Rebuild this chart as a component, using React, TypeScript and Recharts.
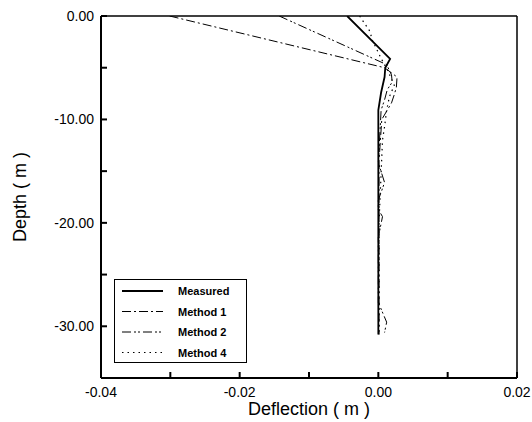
import React from 'react';
import {
    LineChart, Line, XAxis, YAxis, ReferenceLine,
} from 'recharts';

// depth (m) vs deflection (m) per series
const measuredDepth = [0, -4.15, -5.0, -5.9, -7.4, -9.1, -15, -20, -25, -30.8];
const measuredDefl  = [-0.0045, 0.0017, 0.001, 0.0009, 0.0004, 0.0, 0.0, 0.0, 0.0, 0.0];

const method1Depth = [0, -5.0, -5.9, -6.9, -7.6, -8.4, -10, -14, -20, -25, -30.8];
const method1Defl  = [-0.0301, 0.0009, 0.0027, 0.0026, 0.0023, 0.0019, 0.0005, 0.0001, 0.0001, 0.0001, 0.0001];

const method2Depth = [0, -4.7, -5.7, -6.4, -7.1, -8.1, -9.1, -14.2, -16.1, -17.8, -18.7, -19.4, -21.4, -27.7, -29.6, -30.6];
const method2Defl  = [-0.0143, 0.0012, 0.0019, 0.002, 0.0013, 0.0009, 0.0004, 0.0, 0.0009, 0.0, 0.0, 0.0006, 0.0, 0.0, 0.0012, 0.0009];

const method4Depth = [0, -1.5, -2.3, -4.1, -5.2, -6.7, -7.8, -9.1, -10.7, -12, -20, -30.8];
const method4Defl  = [-0.0027, -0.0012, -0.0009, 0.0004, 0.0013, 0.0023, 0.0016, 0.0012, 0.0009, 0.0006, 0.0001, 0.0001];

const xTicks = [-0.04, -0.03, -0.02, -0.01, 0, 0.01, 0.02];
const yTicks = [0, -5, -10, -15, -20, -25, -30, -35];

const toPoints = (depth: number[], defl: number[]) =>
    depth.map((z, i) => ({ d: defl[i], z }));

const SERIES = [
    { name: 'Measured', data: toPoints(measuredDepth, measuredDefl), width: 1.8, dash: undefined },
    { name: 'Method 1', data: toPoints(method1Depth, method1Defl),   width: 1,   dash: '9 3 2 3' },
    { name: 'Method 2', data: toPoints(method2Depth, method2Defl),   width: 1,   dash: '9 3 2 2 2 3' },
    { name: 'Method 4', data: toPoints(method4Depth, method4Defl),   width: 1.2, dash: '1.5 4' },
];

const FONT = '"Liberation Sans", Arial, sans-serif';

const LegendBox: React.FC = () => (
    <div style={{
        position: 'absolute', left: 106, top: 271, width: 133, height: 84,
        border: '1.5px solid #000', background: '#fff', boxSizing: 'border-box',
    }}>
        <svg width={130} height={81} style={{ display: 'block' }}>
            {SERIES.map((s, i) => {
                const y = 11 + i * 20.5;
                return (
                    <g key={s.name}>
                        <line x1={7} x2={48} y1={y} y2={y} stroke="#000"
                              strokeWidth={s.width} strokeDasharray={s.dash} />
                        <text x={63} y={y + 4} fontSize={11} fontWeight="bold"
                              fontFamily={FONT} fill="#000">{s.name}</text>
                    </g>
                );
            })}
        </svg>
    </div>
);

const App: React.FC = () => {
    const fmtX = (v: number) => (Math.round(v * 100) % 2 === 0 ? v.toFixed(2) : '');
    const fmtY = (v: number) => (v % 10 === 0 ? v.toFixed(2) : '');

    // absolutely placed so the page never grows a scrollbar
    return (
        <div style={{ position: 'absolute', left: 8, top: 8, width: 524, height: 414, fontFamily: FONT }}>
            <LineChart width={524} height={414} margin={{ top: 8, right: 15, bottom: 0, left: 0 }}
                       style={{ overflow: 'visible' }}>
                <XAxis
                    dataKey="d"
                    type="number"
                    domain={[-0.04, 0.02]}
                    ticks={xTicks}
                    tickFormatter={fmtX}
                    allowDataOverflow
                    height={44}
                    tickSize={-6}
                    tickMargin={15}
                    stroke="#000"
                    strokeWidth={2}
                    tick={{ fontSize: 14, fill: '#000', fontFamily: FONT }}
                    label={{ value: 'Deflection ( m )', position: 'insideBottom', offset: 7,
                             style: { fontSize: 18, fill: '#000', fontFamily: FONT } }}
                />
                <YAxis
                    dataKey="z"
                    type="number"
                    domain={[-35, 0]}
                    ticks={yTicks}
                    tickFormatter={fmtY}
                    allowDataOverflow
                    width={93}
                    tickSize={-6}
                    tickMargin={13}
                    stroke="#000"
                    strokeWidth={2}
                    tick={{ fontSize: 14, fill: '#000', fontFamily: FONT }}
                    label={{ value: 'Depth ( m )', angle: -90, position: 'insideLeft', offset: 12,
                             style: { fontSize: 18, fill: '#000', fontFamily: FONT, textAnchor: 'middle' } }}
                />
                <ReferenceLine y={0} stroke="#000" strokeWidth={1.5} />
                <ReferenceLine x={0.02} stroke="#000" strokeWidth={1.5} />
                {SERIES.map(s => (
                    <Line
                        key={s.name}
                        data={s.data}
                        dataKey="z"
                        name={s.name}
                        type="linear"
                        stroke="#000"
                        strokeWidth={s.width}
                        strokeDasharray={s.dash}
                        dot={false}
                        activeDot={false}
                        isAnimationActive={false}
                    />
                ))}
            </LineChart>
            <LegendBox />
        </div>
    );
};

export default App;
